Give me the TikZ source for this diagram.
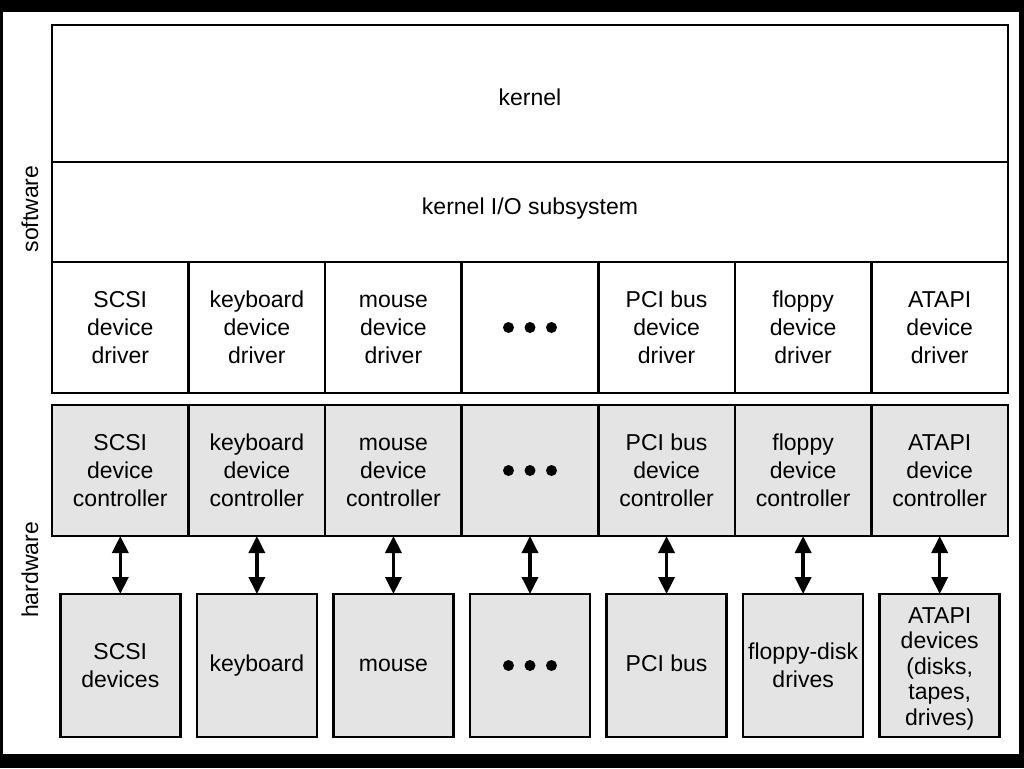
\documentclass[tikz,border=0pt]{standalone}
\usepackage{fontspec}
\setmainfont{Liberation Sans}
\usetikzlibrary{arrows.meta}
\definecolor{hwgray}{HTML}{E4E4E4}
\tikzset{
    layernode/.style = {
        align=center,
        rectangle,
        draw=black,
        line width=1.25pt,
        minimum width=478pt,
        inner sep=0pt,
        outer sep=0pt
    },
    drivernode/.style = {
        layernode,
        minimum width=68.29pt,
        minimum height=65.5pt
    },
    ctrlnode/.style = {
        drivernode,
        fill=hwgray
    },
    devnode/.style = {
        ctrlnode,
        minimum width=60pt,
        minimum height=71.5pt
    },
    sidelabel/.style = {
        rotate=90
    },
    busarrow/.style = {
        line width=1.75pt,
        {Triangle[width=8pt,length=8.5pt]}-{Triangle[width=8pt,length=8.5pt]}
    }
}
\newcommand{\threedots}[1]{
    \fill (#1) ++(-21.5,0) circle[radius=2.75pt] ++(21.5,0) circle[radius=2.75pt] ++(21.5,0) circle[radius=2.75pt];
}

\begin{document}
\begin{tikzpicture}[x=0.5pt, y=-0.5pt, font=\fontsize{11.5}{14}\selectfont]
    % frame
    \fill[black] (0,0) rectangle (1024,768);
    \fill[white] (3,12) rectangle (1019,754);

    % software
    \node [layernode, minimum height=68.5pt, text height=12.2pt, text depth=0pt] (kernel) at (530,93.5) {kernel};
    \node [layernode, minimum height=50pt, text height=8.5pt, text depth=6.2pt] (kio) at (530,212) {kernel I/O subsystem};
    \node [drivernode] (drv1) at (120.29,327.5) {SCSI\\device\\driver};
    \node [drivernode] (drv2) at (256.86,327.5) {keyboard\\device\\driver};
    \node [drivernode] (drv3) at (393.43,327.5) {\vphantom{k}mouse\\device\\driver};
    \node [drivernode] (drv4) at (530,327.5) {};
    \node [drivernode] (drv5) at (666.57,327.5) {PCI bus\\device\\driver};
    \node [drivernode] (drv6) at (803.14,327.5) {floppy\\device\\driver};
    \node [drivernode] (drv7) at (939.71,327.5) {ATAPI\\device\\driver};

    % hardware
    \node [ctrlnode] (ctl1) at (120.29,470.5) {SCSI\\device\\controller};
    \node [ctrlnode] (ctl2) at (256.86,470.5) {keyboard\\device\\controller};
    \node [ctrlnode] (ctl3) at (393.43,470.5) {\vphantom{k}mouse\\device\\controller};
    \node [ctrlnode] (ctl4) at (530,470.5) {};
    \node [ctrlnode] (ctl5) at (666.57,470.5) {PCI bus\\device\\controller};
    \node [ctrlnode] (ctl6) at (803.14,470.5) {floppy\\device\\controller};
    \node [ctrlnode] (ctl7) at (939.71,470.5) {ATAPI\\device\\controller};

    \node [devnode] (dev1) at (120.29,665.5) {SCSI\\devices};
    \node [devnode] (dev2) at (256.86,665.5) {keyboard};
    \node [devnode] (dev3) at (393.43,665.5) {\vphantom{ky}mouse};
    \node [devnode] (dev4) at (530,665.5) {};
    \node [devnode] (dev5) at (666.57,665.5) {\vphantom{ky}PCI bus};
    \node [devnode] (dev6) at (803.14,665.5) {floppy-disk\\drives};
    \node [devnode, font=\fontsize{11.5}{12.75}\selectfont] (dev7) at (939.71,665.5) {\rule{0pt}{11pt}ATAPI\\devices\\(disks,\\tapes,\\drives)};

    \threedots{drv4}
    \threedots{ctl4}
    \threedots{dev4}

    \foreach \i in {1,...,7}
        \draw [busarrow] (ctl\i) -- (dev\i);

    \node [sidelabel] (swlabel) at (30,209) {software};
    \node [sidelabel] (hwlabel) at (30,570) {hardware};
\end{tikzpicture}
\end{document}
